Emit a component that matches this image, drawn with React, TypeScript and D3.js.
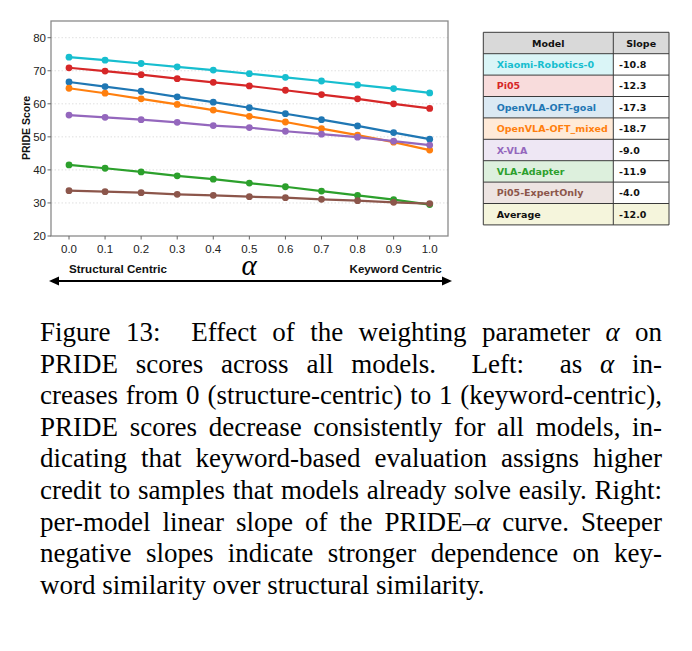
import React, { useLayoutEffect, useRef } from "react";
import * as d3 from "d3";

const alphas = [0.0, 0.1, 0.2, 0.3, 0.4, 0.5, 0.6, 0.7, 0.8, 0.9, 1.0];
const xTickLabels = ["0.0", "0.1", "0.2", "0.3", "0.4", "0.5", "0.6", "0.7", "0.8", "0.9", "1.0"];
const yTicks = [20, 30, 40, 50, 60, 70, 80];

const models = ["Xiaomi-Robotics-0", "Pi05", "OpenVLA-OFT-goal", "OpenVLA-OFT_mixed", "X-VLA", "VLA-Adapter", "Pi05-ExpertOnly"];
const colors = ["#17becf", "#d62728", "#1f77b4", "#ff7f0e", "#9467bd", "#2ca02c", "#8c564b"];

const xiaomi = [74.1, 73.2, 72.2, 71.2, 70.2, 69.1, 68.0, 66.9, 65.7, 64.6, 63.3];
const pi05 = [70.9, 69.9, 68.8, 67.6, 66.5, 65.4, 64.1, 62.8, 61.5, 60.0, 58.6];
const oftGoal = [66.6, 65.2, 63.8, 62.1, 60.5, 58.8, 57.0, 55.2, 53.3, 51.3, 49.3];
const oftMixed = [64.7, 63.2, 61.5, 59.8, 58.1, 56.2, 54.5, 52.5, 50.5, 48.4, 46.0];
const xvla = [56.6, 55.9, 55.2, 54.4, 53.4, 52.8, 51.7, 50.8, 49.9, 48.7, 47.5];
const vlaAdapter = [41.5, 40.5, 39.4, 38.2, 37.2, 36.0, 34.9, 33.6, 32.3, 31.0, 29.5];
const pi05Expert = [33.7, 33.4, 33.1, 32.6, 32.3, 31.9, 31.6, 31.1, 30.7, 30.2, 29.8];
const seriesValues = [xiaomi, pi05, oftGoal, oftMixed, xvla, vlaAdapter, pi05Expert];

const slopes = ["-10.8", "-12.3", "-17.3", "-18.7", "-9.0", "-11.9", "-4.0"];
const averageSlope = "-12.0";

type Seg = { t: string; it?: boolean };
const captionLines: Seg[][] = [
  [{ t: "Figure 13:  Effect of the weighting parameter " }, { t: "α", it: true }, { t: " on" }],
  [{ t: "PRIDE scores across all models.  Left:  as " }, { t: "α", it: true }, { t: " in-" }],
  [{ t: "creases from 0 (structure-centric) to 1 (keyword-centric)," }],
  [{ t: "PRIDE scores decrease consistently for all models, in-" }],
  [{ t: "dicating that keyword-based evaluation assigns higher" }],
  [{ t: "credit to samples that models already solve easily. Right:" }],
  [{ t: "per-model linear slope of the PRIDE–" }, { t: "α", it: true }, { t: " curve. Steeper" }],
  [{ t: "negative slopes indicate stronger dependence on key-" }],
  [{ t: "word similarity over structural similarity." }],
];

export default function App() {
  const capRef = useRef<SVGGElement>(null);

  const W = 692, H = 651;
  const frame = { l: 51, r: 448, t: 21, b: 236 };
  const x = d3.scaleLinear().domain([0, 1]).range([69, 429.7]);
  const y = d3.scaleLinear().domain([20, 80]).range([236, 37.7]);
  const line = d3.line<number>().x((_, i) => x(alphas[i])).y((v) => y(v));

  // table geometry
  const tX0 = 483.3, tX1 = 613.3, tX2 = 669, tY0 = 32.3, rowH = 21.4;
  const tableRows = [...models.map((m, i) => ({ name: m, slope: slopes[i], color: colors[i], avg: false })),
    { name: "Average", slope: averageSlope, color: "#111", avg: true }];

  const capX0 = 40, capX1 = 662, capBase = 341, capLH = 31.6;

  useLayoutEffect(() => {
    const g = capRef.current;
    if (!g) return;
    d3.select(g).selectAll<SVGTextElement, unknown>("text.just").each(function () {
      const el = this as SVGTextElement;
      el.setAttribute("word-spacing", "0");
      const nat = el.getComputedTextLength();
      const txt = el.textContent || "";
      const spaces = (txt.match(/ /g) || []).length;
      if (spaces > 0) {
        const extra = (capX1 - capX0 - nat) / spaces;
        el.setAttribute("word-spacing", String(extra));
      }
    });
  }, []);

  return (
    <svg width={W} height={H} style={{ display: "block", margin: -8, background: "#fff" }}
      xmlns="http://www.w3.org/2000/svg">
      <rect x={0} y={0} width={W} height={H} fill="#fff" />
      {/* grid */}
      {yTicks.slice(1).map((t) => (
        <line key={"g" + t} x1={frame.l} x2={frame.r} y1={y(t)} y2={y(t)} stroke="#d8d8d8"
          strokeWidth={0.8} strokeDasharray="1.5,2" />
      ))}
      {/* series */}
      {seriesValues.map((vals, si) => (
        <g key={models[si]}>
          <path d={line(vals) || ""} fill="none" stroke={colors[si]} strokeWidth={2.2} />
          {vals.map((v, i) => (
            <circle key={i} cx={x(alphas[i])} cy={y(v)} r={3.4} fill={colors[si]} />
          ))}
        </g>
      ))}
      {/* frame */}
      <rect x={frame.l} y={frame.t} width={frame.r - frame.l} height={frame.b - frame.t} fill="none"
        stroke="#8a8a8a" strokeWidth={1.3} />
      {/* y ticks */}
      {yTicks.map((t) => (
        <g key={"y" + t}>
          <line x1={frame.l - 3.5} x2={frame.l} y1={y(t)} y2={y(t)} stroke="#666" strokeWidth={1} />
          <text x={frame.l - 5} y={y(t)} dy="0.36em" textAnchor="end" fontFamily="Liberation Sans, Arial, sans-serif"
            fontSize={11.5} fill="#222">{t}</text>
        </g>
      ))}
      {/* x ticks */}
      {alphas.map((a, i) => (
        <g key={"x" + i}>
          <line x1={x(a)} x2={x(a)} y1={frame.b} y2={frame.b + 3.5} stroke="#666" strokeWidth={1} />
          <text x={x(a)} y={252.5} textAnchor="middle" fontFamily="Liberation Sans, Arial, sans-serif"
            fontSize={11.5} fill="#222">{xTickLabels[i]}</text>
        </g>
      ))}
      {/* y label */}
      <text transform={`translate(25.7,128) rotate(-90)`} textAnchor="middle" dominantBaseline="central"
        fontFamily="Liberation Sans, Arial, sans-serif" fontWeight="bold" fontSize={10.5} fill="#111">PRIDE Score</text>
      {/* axis annotation */}
      <text x={69} y={272.7} fontFamily="Liberation Sans, Arial, sans-serif" fontWeight="bold" fontSize={11.6}
        fill="#111">Structural Centric</text>
      <text x={441.7} y={272.7} textAnchor="end" fontFamily="Liberation Sans, Arial, sans-serif" fontWeight="bold"
        fontSize={11.6} fill="#111">Keyword Centric</text>
      <text x={249} y={274.5} textAnchor="middle" fontFamily="Liberation Serif, Times New Roman, serif"
        fontStyle="italic" fontSize={29} fill="#000">α</text>
      <line x1={57} x2={444} y1={281} y2={281} stroke="#000" strokeWidth={2} />
      <path d="M49,281 L59,276.5 L59,285.5 Z" fill="#000" />
      <path d="M452,281 L442,276.5 L442,285.5 Z" fill="#000" />

      {/* table */}
      <g fontFamily="DejaVu Sans, sans-serif" fontWeight="bold" fontSize={9.5}>
        <rect x={tX0} y={tY0} width={tX2 - tX0} height={rowH} fill="#d9d9d9" />
        {tableRows.map((r, i) => {
          const ry = tY0 + rowH * (i + 1);
          return (
            <g key={r.name}>
              {r.avg ? (
                <rect x={tX0} y={ry} width={tX2 - tX0} height={rowH} fill="#f5f5dc" />
              ) : (
                <>
                  <rect x={tX0} y={ry} width={tX1 - tX0} height={rowH} fill="#fff" />
                  <rect x={tX0} y={ry} width={tX1 - tX0} height={rowH} fill={r.color} fillOpacity={0.16} />
                  <rect x={tX1} y={ry} width={tX2 - tX1} height={rowH} fill="#fff" />
                </>
              )}
              <text x={496.7} y={ry + rowH / 2} dominantBaseline="central" fill={r.color}>{r.name}</text>
              <text x={619} y={ry + rowH / 2} dominantBaseline="central" fill="#111">{r.slope}</text>
            </g>
          );
        })}
        <text x={(tX0 + tX1) / 2} y={tY0 + rowH / 2} dominantBaseline="central" textAnchor="middle" fill="#111">Model</text>
        <text x={(tX1 + tX2) / 2} y={tY0 + rowH / 2} dominantBaseline="central" textAnchor="middle" fill="#111">Slope</text>
        {/* grid lines */}
        {d3.range(tableRows.length + 2).map((i) => (
          <line key={"h" + i} x1={tX0} x2={tX2} y1={tY0 + rowH * i} y2={tY0 + rowH * i} stroke="#3a3a3a" strokeWidth={1} />
        ))}
        {[tX0, tX1, tX2].map((vx, i) => (
          <line key={"v" + i} x1={vx} x2={vx} y1={tY0} y2={tY0 + rowH * (tableRows.length + 1)} stroke="#3a3a3a" strokeWidth={1} />
        ))}
      </g>

      {/* caption */}
      <g ref={capRef} fontFamily="Liberation Serif, Times New Roman, serif" fontSize={27} fill="#000">
        {captionLines.map((segs, i) => (
          <text key={i} className={i < captionLines.length - 1 ? "just" : ""} x={capX0} y={capBase + capLH * i}
            style={{ whiteSpace: "pre" }}>
            {segs.map((s, j) => (
              <tspan key={j} fontStyle={s.it ? "italic" : "normal"}>{s.t}</tspan>
            ))}
          </text>
        ))}
      </g>
    </svg>
  );
}
